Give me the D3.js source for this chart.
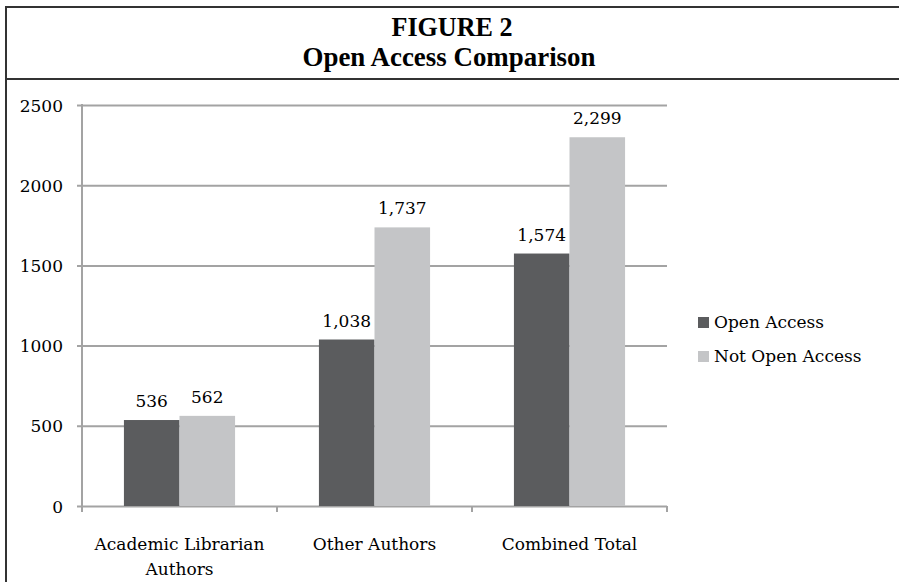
<!DOCTYPE html>
<html>
<head>
<meta charset="utf-8">
<script src="https://d3js.org/d3.v7.min.js"></script>
<style>
  body { margin: 0; background: #fff; }
  svg { display: block; }
</style>
</head>
<body>
<div id="chart"></div>
<script>
// chart data
const categories = [["Academic Librarian", "Authors"], ["Other Authors"], ["Combined Total"]];
const seriesNames = ["Open Access", "Not Open Access"];
const openAccess = [536, 1038, 1574];
const notOpenAccess = [562, 1737, 2299];
const yTicks = [0, 500, 1000, 1500, 2000, 2500];
const titleLines = ["FIGURE 2", "Open Access Comparison"];

const W = 899, H = 582;
const colors = ["#5b5c5e", "#c4c5c7"];
const gridColor = "#a3a3a3";
const labelFont = "'DejaVu Serif', serif";
const fs = 17;

const svg = d3.select("#chart").append("svg")
    .attr("width", W)
    .attr("height", H);

svg.append("rect").attr("width", W).attr("height", H).attr("fill", "#fff");

// frame: left edge, top edge, divider under title
const frame = svg.append("g").attr("stroke", "#333").attr("stroke-width", 2).attr("fill", "none");
frame.append("line").attr("x1", 6).attr("x2", 6).attr("y1", 7).attr("y2", H);
frame.append("line").attr("x1", 5).attr("x2", W).attr("y1", 7).attr("y2", 7);
frame.append("line").attr("x1", 5).attr("x2", W).attr("y1", 79).attr("y2", 79);

// title
svg.append("text")
    .attr("x", 452).attr("y", 36)
    .attr("text-anchor", "middle")
    .attr("font-family", "'Liberation Serif', serif")
    .attr("font-weight", "bold")
    .attr("font-size", 27)
    .attr("textLength", 121)
    .attr("lengthAdjust", "spacingAndGlyphs")
    .text(titleLines[0]);
svg.append("text")
    .attr("x", 449).attr("y", 66)
    .attr("text-anchor", "middle")
    .attr("font-family", "'Liberation Serif', serif")
    .attr("font-weight", "bold")
    .attr("font-size", 27)
    .attr("textLength", 293)
    .attr("lengthAdjust", "spacingAndGlyphs")
    .text(titleLines[1]);

// scales
const x0 = d3.scaleBand()
    .domain(d3.range(categories.length))
    .range([82, 667])
    .paddingInner(0.43)
    .paddingOuter(0.215);

const x1 = d3.scaleBand()
    .domain(seriesNames)
    .range([0, x0.bandwidth()]);

const y = d3.scaleLinear()
    .domain([0, 2500])
    .range([506, 105]);

// gridlines + y axis
const yAxis = svg.append("g")
    .attr("transform", "translate(82,0)")
    .call(d3.axisLeft(y).tickValues(yTicks).tickFormat(d3.format("d"))
        .tickSize(-(667 - 82)).tickSizeOuter(0).tickPadding(19));
yAxis.select(".domain").remove();
yAxis.selectAll(".tick line")
    .attr("stroke", gridColor)
    .attr("stroke-width", 2)
    .attr("x1", -5);
yAxis.selectAll(".tick text")
    .attr("font-family", labelFont)
    .attr("font-size", fs)
    .attr("fill", "#000")
    .attr("dy", "0.36em");

// vertical axis line
svg.append("line")
    .attr("x1", 82).attr("x2", 82)
    .attr("y1", y(2500) - 1).attr("y2", y(0) + 5)
    .attr("stroke", gridColor).attr("stroke-width", 2);

// category ticks
const catEdges = d3.range(categories.length + 1).map(i => i < categories.length ? x0(i) - x0.step() * x0.paddingOuter() : 667);
svg.append("g").selectAll("line")
    .data(catEdges)
    .join("line")
    .attr("x1", d => d).attr("x2", d => d)
    .attr("y1", y(0)).attr("y2", y(0) + 6)
    .attr("stroke", gridColor).attr("stroke-width", 2);

// bars
const rows = categories.map((c, i) => [
    { s: seriesNames[0], v: openAccess[i] },
    { s: seriesNames[1], v: notOpenAccess[i] }
]);

const groups = svg.append("g").selectAll("g")
    .data(rows)
    .join("g")
    .attr("transform", (d, i) => `translate(${x0(i)},0)`);

groups.selectAll("rect")
    .data(d => d)
    .join("rect")
    .attr("x", d => x1(d.s))
    .attr("width", x1.bandwidth())
    .attr("y", d => y(d.v))
    .attr("height", d => y(0) - y(d.v))
    .attr("fill", (d, i) => colors[i]);

groups.selectAll("text")
    .data(d => d)
    .join("text")
    .attr("x", d => x1(d.s) + x1.bandwidth() / 2)
    .attr("y", d => y(d.v) - 13)
    .attr("text-anchor", "middle")
    .attr("font-family", labelFont)
    .attr("font-size", fs)
    .text(d => d3.format(",")(d.v));

// category labels
svg.append("g").selectAll("text")
    .data(categories)
    .join("text")
    .attr("x", (d, i) => x0(i) + x0.bandwidth() / 2)
    .attr("y", 550)
    .attr("text-anchor", "middle")
    .attr("font-family", labelFont)
    .attr("font-size", fs)
    .selectAll("tspan")
    .data(d => d)
    .join("tspan")
    .attr("x", function () { return d3.select(this.parentNode).attr("x"); })
    .attr("dy", (d, i) => i === 0 ? 0 : 25)
    .text(d => d);

// legend
const legend = svg.append("g").selectAll("g")
    .data(seriesNames)
    .join("g")
    .attr("transform", (d, i) => `translate(698,${317 + i * 34})`);
legend.append("rect")
    .attr("width", 11).attr("height", 11)
    .attr("fill", (d, i) => colors[i]);
legend.append("text")
    .attr("x", 16).attr("y", 11)
    .attr("font-family", labelFont)
    .attr("font-size", fs)
    .text(d => d);
</script>
</body>
</html>
